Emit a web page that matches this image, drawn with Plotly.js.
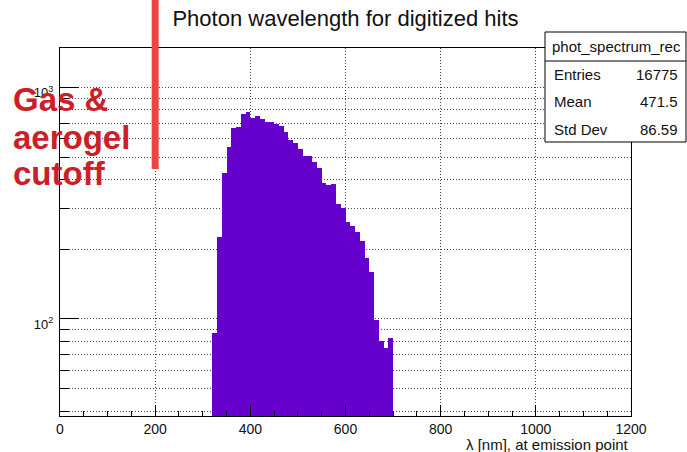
<!DOCTYPE html>
<html>
<head>
<meta charset="utf-8">
<script src="https://cdn.plot.ly/plotly-3.0.1.min.js"></script>
<style>html,body{margin:0;padding:0;background:#fff}#chart{width:687px;height:452px}</style>
</head>
<body>
<div id="chart"></div>
<script>
// ---- data ----
const binStart = [320,330,340,350,360,370,380,390,400,410,420,430,440,450,460,470,480,490,500,510,
                  520,530,540,550,560,570,580,590,600,610,620,630,640,650,660,670,680,690];
const binWidth = 10;
const counts = [87,227,428,553,667,676,767,784,736,754,729,710,710,694,682,643,593,574,541,506,
                506,478,448,386,379,381,315,302,263,252,238,218,184,160,99,80,75,83];
const xTickVals = [0,200,400,600,800,1000,1200];
const yMajorVals = [100,1000];
const yMajorText = ['10<sup>2</sup>','10<sup>3</sup>'];
const yMinorVals = [40,50,60,70,80,90,200,300,400,500,600,700,800,900];
const cutoffNm = 200;
const cutoffLines = ['Gas &amp;','aerogel','cutoff'];
const statsName = 'phot_spectrum_rec';
const statsLabels = ['Entries','Mean','Std Dev'];
const statsValues = ['16775','471.5','86.59'];
const titleText = 'Photon wavelength for digitized hits';
const xTitleText = 'λ [nm], at emission point';

// ---- layout helpers (pixel -> paper) ----
const W = 687, H = 452;
const M = {l:60, r:56, t:48, b:36};
const PW = W - M.l - M.r, PH = H - M.t - M.b;
const px = x => (x - M.l) / PW;
const py = y => (H - M.b - y) / PH;

const FONT = 'Liberation Sans, Arial, Helvetica, sans-serif';
const grid = {gridcolor:'#444', gridwidth:1, griddash:'1px,2px'};

const trace = {
  type:'bar', x: binStart, y: counts, width: binWidth, offset: 0,
  marker:{color:'#6600cc', line:{width:0}},
  hoverinfo:'x+y'
};

const annotations = [];
const cutoffY = [99, 137, 173];
cutoffLines.forEach((t,i) => annotations.push({
  xref:'paper', yref:'paper', x: px(11), y: py(cutoffY[i]), xanchor:'left', yanchor:'middle',
  text:t, showarrow:false, font:{family:FONT, size:33, color:'#cc2029', weight:'bold'}
}));
annotations.push({
  xref:'paper', yref:'paper', x: 1, y: py(444), xanchor:'right', yanchor:'middle',
  text: xTitleText, showarrow:false, font:{family:FONT, size:15, color:'#111'}
});
// stats box text
annotations.push({
  xref:'paper', yref:'paper', x: px(616), y: py(47), xanchor:'center', yanchor:'middle',
  text: statsName, showarrow:false, font:{family:FONT, size:15, color:'#111'}
});
const rowY = [74, 101.5, 129];
statsLabels.forEach((t,i) => {
  annotations.push({xref:'paper', yref:'paper', x: px(552), y: py(rowY[i]), xanchor:'left', yanchor:'middle',
    text:t, showarrow:false, font:{family:FONT, size:15, color:'#111'}});
  annotations.push({xref:'paper', yref:'paper', x: px(680), y: py(rowY[i]), xanchor:'right', yanchor:'middle',
    text:statsValues[i], showarrow:false, font:{family:FONT, size:15, color:'#111'}});
});

const shapes = [
  {type:'line', xref:'x', yref:'paper', x0: cutoffNm, x1: cutoffNm, y0: py(169), y1: py(0),
   line:{color:'#ef4444', width:7}, layer:'above'},
  {type:'rect', xref:'paper', yref:'paper', x0: px(545), x1: px(686), y0: py(142), y1: py(32),
   fillcolor:'#fff', line:{color:'#000', width:1}, layer:'above'},
  {type:'line', xref:'paper', yref:'paper', x0: px(545), x1: px(686), y0: py(61), y1: py(61),
   line:{color:'#000', width:1}, layer:'above'}
];

const layout = {
  width: W, height: H,
  margin: M,
  paper_bgcolor:'#fff', plot_bgcolor:'#fff',
  showlegend:false,
  bargap:0,
  title:{text:titleText, font:{family:FONT, size:22, color:'#111'}, x:0.5, xref:'paper',
         y: 1 - 18/H, yref:'container', yanchor:'middle'},
  xaxis:{
    range:[0,1200], tickmode:'array', tickvals:xTickVals,
    ticks:'inside', ticklen:11, tickwidth:1, tickcolor:'#000',
    showline:true, linecolor:'#000', linewidth:1, mirror:true,
    showgrid:true, ...grid, zeroline:false,
    tickfont:{family:FONT, size:14, color:'#111'},
    minor:{dtick:50, ticks:'inside', ticklen:5, tickcolor:'#000', showgrid:false}
  },
  yaxis:{
    type:'log', range:[Math.log10(38.1), Math.log10(1480)],
    tickmode:'array', tickvals:yMajorVals, ticktext:yMajorText,
    ticks:'inside', ticklen:19, tickwidth:1, tickcolor:'#000',
    showline:true, linecolor:'#000', linewidth:1, mirror:true,
    showgrid:true, ...grid, zeroline:false,
    tickfont:{family:FONT, size:13, color:'#111'},
    ticklabelstandoff:3, ticklabelshift:5,
    minor:{tickmode:'array', tickvals:yMinorVals, ticks:'inside', ticklen:9, tickcolor:'#000',
           showgrid:true, ...grid}
  },
  shapes, annotations
};

Plotly.newPlot('chart', [trace], layout, {staticPlot:true, displayModeBar:false});
</script>
</body>
</html>
